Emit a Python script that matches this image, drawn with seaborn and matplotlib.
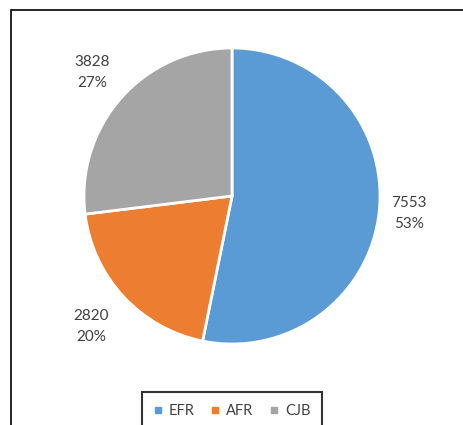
#!/usr/bin/env python
# -*- coding: utf-8 -*-
"""Pie chart of EFR / AFR / CJB counts."""

import numpy as np
import matplotlib
matplotlib.use("Agg")
import matplotlib.pyplot as plt
from matplotlib.lines import Line2D
from matplotlib.patches import Rectangle
import seaborn as sns

# data
categories = ["EFR", "AFR", "CJB"]
counts = [7553, 2820, 3828]
percent_labels = ["53%", "20%", "27%"]
colors = ["#5B9BD5", "#ED7D31", "#A5A5A5"]

sns.set_theme(style="white")
plt.rcParams["font.family"] = ["Lato", "DejaVu Sans"]
TEXT_COLOR = "#404040"

W, H = 463, 425
fig = plt.figure(figsize=(W / 100, H / 100), dpi=100)

# pie centre at (232, 196) px from top-left, radius 148 px
R_PX = 148.0
cx, cy = 232.0, H - 196.0
ax = fig.add_axes([0, 0, 1, 1])

labels = [f"{c}\n{p}" for c, p in zip(counts, percent_labels)]
wedges, texts = ax.pie(
    counts,
    colors=colors,
    startangle=90,
    counterclock=False,
    labels=labels,
    labeldistance=1.25,
    wedgeprops=dict(edgecolor="white", linewidth=2),
    textprops=dict(ha="center", va="center", color=TEXT_COLOR,
                   fontsize=11, linespacing=1.65),
)

# outside-end label offsets differ a little per slice (like Excel)
label_dist = [1.20, 1.30, 1.26]
for w, t, d in zip(wedges, texts, label_dist):
    mid = np.deg2rad((w.theta1 + w.theta2) / 2)
    t.set_position((d * np.cos(mid), d * np.sin(mid)))

ax.set_aspect("auto")
ax.set_xlim(-cx / R_PX, (W - cx) / R_PX)
ax.set_ylim(-cy / R_PX, (H - cy) / R_PX)
ax.axis("off")

# outer chart frame (only left and top edges visible in the crop)
fig.patches.append(Rectangle((11 / W, -0.1), 1.1, (H - 10) / H + 0.1,
                             transform=fig.transFigure, fill=False,
                             edgecolor="black", linewidth=1.2))

# legend at the bottom
handles = [Line2D([], [], marker="s", linestyle="", markersize=5,
                  markerfacecolor=c, markeredgecolor=c) for c in colors]
leg = fig.legend(handles, categories, loc="upper center",
                 bbox_to_anchor=(cx / W, 33 / H), ncol=3, frameon=True,
                 fontsize=10.5, handlelength=0.6, handletextpad=0.45,
                 columnspacing=1.1, borderpad=0.8, borderaxespad=0,
                 fancybox=False, labelcolor=TEXT_COLOR)
leg.get_frame().set_edgecolor("black")
leg.get_frame().set_linewidth(1.5)

fig.savefig("out.png", dpi=100)
plt.close(fig)
